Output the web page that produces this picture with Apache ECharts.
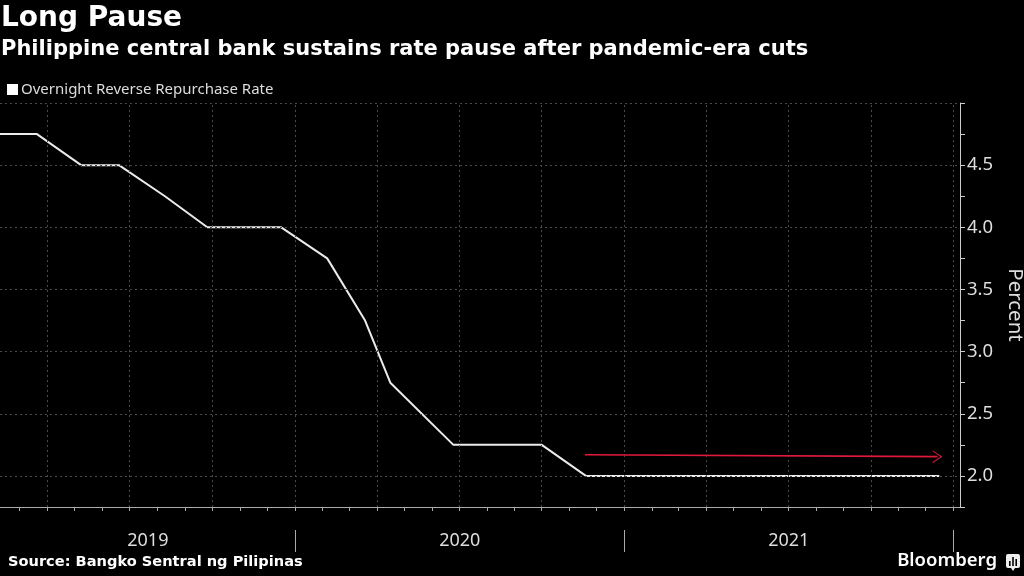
<!DOCTYPE html>
<html>
<head>
<meta charset="utf-8">
<title>Long Pause</title>
<script src="https://cdn.jsdelivr.net/npm/echarts@6/dist/echarts.min.js"></script>
<style>
  html, body { margin: 0; padding: 0; background: #000; }
  #main { width: 1024px; height: 576px; }
</style>
</head>
<body>
<div id="main"></div>
<script>
// policy meeting dates and the rate set at each one
var meetingDates = ['2019-02-08', '2019-03-21', '2019-05-09', '2019-06-20', '2019-08-10',
  '2019-09-26', '2019-11-14', '2019-12-17', '2020-02-06', '2020-03-19', '2020-04-16',
  '2020-06-25', '2020-08-20', '2020-10-01', '2020-11-19', '2020-12-17', '2021-02-11',
  '2021-03-25', '2021-05-12', '2021-06-24', '2021-08-12', '2021-09-23', '2021-11-18',
  '2021-12-16'];
var rates = [4.75, 4.75, 4.5, 4.5, 4.25, 4.0, 4.0, 4.0, 3.75, 3.25, 2.75, 2.25, 2.25, 2.25,
  2.0, 2.0, 2.0, 2.0, 2.0, 2.0, 2.0, 2.0, 2.0, 2.0];

var axisStart = '2019-02-08';
var axisEnd = '2022-01-08';
var quarterStarts = ['2019-04-01', '2019-07-01', '2019-10-01', '2020-01-01', '2020-04-01',
  '2020-07-01', '2020-10-01', '2021-01-01', '2021-04-01', '2021-07-01', '2021-10-01', '2022-01-01'];
var yearStarts = ['2020-01-01', '2021-01-01', '2022-01-01'];
var yearLabelAt = ['2019-07-22', '2020-07-02', '2021-07-02'];
var rateLevels = [2.0, 2.5, 3.0, 3.5, 4.0, 4.5, 5.0];

// annotation arrow (date, rate)
var arrowFrom = ['2020-11-18', 2.17];
var arrowTo = ['2021-12-14', 2.155];

function ts(s) {
  var p = s.split('-');
  return new Date(+p[0], +p[1] - 1, +p[2]).getTime();
}

// first day of every month inside the axis range
var monthTicks = [];
for (var y = 2019; y <= 2022; y++) {
  for (var m = 0; m < 12; m++) {
    var t = new Date(y, m, 1).getTime();
    if (t >= ts(axisStart) && t <= ts(axisEnd)) monthTicks.push(t);
  }
}

var seriesName = 'Overnight Reverse Repurchase Rate';
var chart = echarts.init(document.getElementById('main'));

var gridColor = '#4a4a4a';
var gridLines = quarterStarts.map(function (d) { return { xAxis: ts(d) }; })
  .concat(rateLevels.map(function (v) { return { yAxis: v }; }));

var option = {
  backgroundColor: '#000',
  animation: false,
  title: [{
    text: 'Long Pause',
    left: 1, top: 5, padding: 0,
    textStyle: { color: '#fff', fontFamily: 'DejaVu Sans', fontWeight: 'bold', fontSize: 28 }
  }, {
    text: 'Philippine central bank sustains rate pause after pandemic-era cuts',
    left: 1, top: 39, padding: 0,
    textStyle: { color: '#fff', fontFamily: 'DejaVu Sans', fontWeight: 'bold', fontSize: 21 }
  }, {
    text: 'Source: Bangko Sentral ng Pilipinas',
    left: 8, top: 555, padding: 0,
    textStyle: { color: '#fff', fontFamily: 'DejaVu Sans', fontWeight: 'bold', fontSize: 14.6 }
  }, {
    text: 'Bloomberg',
    right: 27, top: 551, padding: 0,
    textStyle: { color: '#fff', fontFamily: 'Noto Sans', fontWeight: 600, fontSize: 18.5 }
  }],
  legend: {
    data: [seriesName],
    left: 2, top: 77,
    icon: 'rect',
    itemWidth: 11, itemHeight: 11, itemGap: 4,
    textStyle: { color: '#ddd', fontFamily: 'Noto Sans', fontSize: 15, padding: [0, 0, 0, -2] }
  },
  grid: { left: 0, right: 64, top: 103, bottom: 69, containLabel: false, outerBoundsMode: 'none' },
  xAxis: [{
    type: 'value',
    min: ts(axisStart), max: ts(axisEnd),
    position: 'bottom',
    axisLine: { lineStyle: { color: '#aaa', width: 1 } },
    axisTick: { customValues: monthTicks, length: 4, lineStyle: { color: '#aaa' } },
    axisLabel: { show: false },
    splitLine: { show: false }
  }, {
    type: 'value',
    min: ts(axisStart), max: ts(axisEnd),
    position: 'bottom',
    offset: 23,
    axisLine: { show: false },
    axisTick: { customValues: yearStarts.map(ts), length: 22, lineStyle: { color: '#aaa' } },
    axisLabel: {
      customValues: yearLabelAt.map(ts),
      margin: 2,
      color: '#ddd', fontFamily: 'Noto Sans', fontSize: 18,
      formatter: function (v) { return String(new Date(v).getFullYear()); }
    },
    splitLine: { show: false }
  }],
  yAxis: {
    type: 'value',
    position: 'right',
    min: 1.75, max: 5, interval: 0.25,
    axisLine: { show: true, lineStyle: { color: '#ccc' } },
    axisTick: { show: true, length: 5, lineStyle: { color: '#ccc' } },
    axisLabel: {
      color: '#ddd', fontFamily: 'Noto Sans', fontSize: 18.5, margin: 7,
      formatter: function (v) {
        return (Math.abs(v * 2 - Math.round(v * 2)) < 1e-6 && v < 5) ? v.toFixed(1) : '';
      }
    },
    splitLine: { show: false },
    name: 'Percent',
    nameLocation: 'middle',
    nameRotate: -90,
    nameGap: 37,
    nameTextStyle: { color: '#ddd', fontFamily: 'Noto Sans', fontSize: 20.5 }
  },
  series: [{
    name: 'grid',
    type: 'line',
    data: [],
    z: 1,
    silent: true,
    markLine: {
      silent: true,
      symbol: ['none', 'none'],
      label: { show: false },
      lineStyle: { color: gridColor, type: [2, 3], width: 1 },
      data: gridLines
    }
  }, {
    name: seriesName,
    type: 'line',
    z: 3,
    showSymbol: false,
    symbol: 'none',
    color: '#fff',
    lineStyle: { color: '#ebebeb', width: 2 },
    data: meetingDates.map(function (d, i) { return [ts(d), rates[i]]; })
  }, {
    name: 'arrow',
    type: 'line',
    data: [],
    z: 4,
    silent: true,
    markLine: {
      silent: true,
      symbol: ['none', 'path://M0,10 L10,0 L20,10 L18.2,10 L10,1.9 L1.8,10 Z'],
      symbolSize: [13, 10],
      label: { show: false },
      lineStyle: { color: '#e0193c', type: 'solid', width: 1.6 },
      data: [[
        { coord: [ts(arrowFrom[0]), arrowFrom[1]] },
        { coord: [ts(arrowTo[0]), arrowTo[1]] }
      ]]
    }
  }],
  graphic: [{
    type: 'group',
    right: 4, top: 554,
    children: [
      { type: 'rect', shape: { x: 0, y: 0, width: 14, height: 14, r: 2 }, style: { fill: '#eee' } },
      { type: 'rect', shape: { x: 3, y: 7, width: 1.6, height: 5 }, style: { fill: '#000' } },
      { type: 'rect', shape: { x: 6.2, y: 3, width: 1.6, height: 9 }, style: { fill: '#000' } },
      { type: 'rect', shape: { x: 9.4, y: 5, width: 1.6, height: 7 }, style: { fill: '#000' } },
      { type: 'polygon', shape: { points: [[5, 14], [9, 14], [7, 17]] }, style: { fill: '#eee' } }
    ]
  }]
};

chart.setOption(option);
</script>
</body>
</html>
